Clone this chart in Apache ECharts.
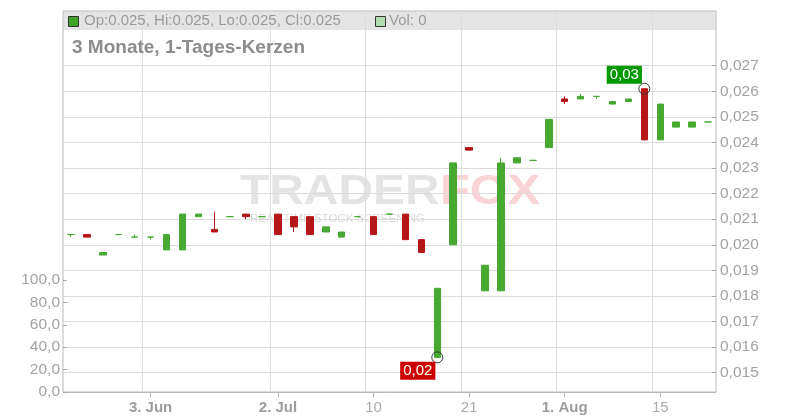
<!DOCTYPE html>
<html><head><meta charset="utf-8">
<script src="https://cdn.jsdelivr.net/npm/echarts@6/dist/echarts.min.js"></script>
<style>html,body{margin:0;padding:0;background:#fff}#c{width:800px;height:420px}</style>
</head><body><div id="c"></div>
<script>
// ---- data ----
const categories = ['22.05','23.05','26.05','27.05','28.05','03.06','05.06','10.06','12.06','16.06',
  '18.06','20.06','25.06','02.07','03.07','04.07','07.07','08.07','09.07','10.07',
  '11.07','14.07','15.07','16.07','17.07','21.07','22.07','23.07','25.07','29.07',
  '31.07','01.08','04.08','05.08','07.08','11.08','13.08','15.08','18.08','19.08','20.08'];
const opens  = [0.0204,0.0204,0.0196,0.0204,0.0203,0.0203,0.0198,0.0198,0.0211,0.0206,
  0.0211,0.0212,0.0211,0.0212,0.0211,0.0211,0.0205,0.0203,0.0211,0.0211,
  0.0212,0.0212,0.0202,0.0156,0.0200,0.0238,0.0182,0.0182,0.0232,0.0233,
  0.0238,0.0257,0.0257,0.0258,0.0255,0.0256,0.0261,0.0241,0.0246,0.0246,0.0248];
const closes = [0.0204,0.0203,0.0197,0.0204,0.0203,0.0203,0.0204,0.0212,0.0212,0.0205,
  0.0211,0.0211,0.0211,0.0204,0.0207,0.0204,0.0207,0.0205,0.0211,0.0204,
  0.0212,0.0202,0.0197,0.0183,0.0232,0.0237,0.0192,0.0232,0.0234,0.0233,
  0.0249,0.0256,0.0258,0.0258,0.0256,0.0257,0.0241,0.0255,0.0248,0.0248,0.0248];
const lows   = [0.0203,0.0203,0.0196,0.0204,0.0203,0.0202,0.0198,0.0198,0.0211,0.0205,
  0.0211,0.0210,0.0211,0.0204,0.0205,0.0204,0.0205,0.0203,0.0211,0.0204,
  0.0212,0.0202,0.0197,0.0156,0.0200,0.0237,0.0182,0.0182,0.0232,0.0233,
  0.0238,0.0255,0.0257,0.0257,0.0255,0.0256,0.0241,0.0241,0.0246,0.0246,0.0248];
const highs  = [0.0204,0.0204,0.0197,0.0204,0.0204,0.0203,0.0204,0.0212,0.0212,0.0213,
  0.0211,0.0212,0.0211,0.0212,0.0211,0.0211,0.0207,0.0205,0.0211,0.0211,
  0.0212,0.0212,0.0202,0.0183,0.0232,0.0238,0.0192,0.0234,0.0234,0.0233,
  0.0249,0.0258,0.0259,0.0258,0.0256,0.0257,0.0261,0.0255,0.0248,0.0248,0.0248];
const tickDates  = ['03.06','02.07','10.07','21.07','01.08','15.08'];
const tickLabels = ['3. Jun','2. Jul','10','21','1. Aug','15'];
const priceMin = 0.015, priceMax = 0.027, priceStep = 0.001;
const volMin = 0, volMax = 100, volStep = 20;
const lastVolume = 0;

// ---- chart ----
const FONT = 'Liberation Sans, Arial, sans-serif';
const GREEN = '#47a832', RED = '#b5161a';
const candles = categories.map((c, i) => [opens[i], closes[i], lows[i], highs[i]]);
const isTick = (idx, val) => tickDates.indexOf(val) >= 0;
const last = candles.length - 1;
const f3 = v => v.toFixed(3);
const headerText = 'Op:' + f3(opens[last]) + ', Hi:' + f3(highs[last]) + ', Lo:' + f3(lows[last]) + ', Cl:' + f3(closes[last]);
const comma = (v, d) => v.toFixed(d).replace('.', ',');

const chart = echarts.init(document.getElementById('c'), null, {renderer: 'canvas'});
const G = {left: 63, right: 84};
chart.setOption({
  animation: false,
  textStyle: {fontFamily: FONT},
  grid: [
    {left: G.left, right: G.right, top: 11, bottom: 28, show: true, borderColor: '#b8b8b8', borderWidth: 1, backgroundColor: 'transparent'},
    {left: G.left, right: G.right, top: 65.7, bottom: 47.3},
    {left: G.left, right: G.right, top: 280, bottom: 28}
  ],
  xAxis: [
    {type: 'category', gridIndex: 0, data: categories, boundaryGap: true,
      axisLine: {show: true, lineStyle: {color: '#b8b8b8'}},
      axisTick: {show: true, interval: isTick, alignWithLabel: true, length: 5, lineStyle: {color: '#b8b8b8'}},
      axisLabel: {interval: isTick, margin: 8, fontSize: 15, fontFamily: FONT, color: '#a6a6a6',
        formatter: v => { const l = tickLabels[tickDates.indexOf(v)]; return l.indexOf('.') >= 0 ? '{b|' + l + '}' : '{n|' + l + '}'; },
        rich: {b: {fontWeight: 'bold', fontSize: 15, color: '#9d9d9d', fontFamily: FONT}, n: {fontSize: 15, color: '#ababab', fontFamily: FONT}}},
      splitLine: {show: true, interval: isTick, lineStyle: {color: '#dcdcdc', width: 1}}},
    {type: 'category', gridIndex: 1, data: categories, boundaryGap: true, show: false},
    {type: 'category', gridIndex: 2, data: categories, boundaryGap: true, show: false}
  ],
  yAxis: [
    {type: 'value', gridIndex: 0, min: 0, max: 1, show: false},
    {type: 'value', gridIndex: 1, position: 'right', min: priceMin, max: priceMax, interval: priceStep,
      axisLine: {show: false},
      axisTick: {show: true, inside: true, length: 4, lineStyle: {color: '#aaaaaa'}},
      axisLabel: {margin: 4, fontSize: 15.5, color: '#a3a3a3', fontFamily: FONT, formatter: v => comma(v, 3)},
      splitLine: {show: true, lineStyle: {color: '#dcdcdc', width: 1}}},
    {type: 'value', gridIndex: 2, position: 'left', min: volMin, max: volMax, interval: volStep,
      axisLine: {show: false},
      axisTick: {show: true, inside: true, length: 4, lineStyle: {color: '#aaaaaa'}},
      axisLabel: {margin: 3, fontSize: 15.5, color: '#a3a3a3', fontFamily: FONT, formatter: v => comma(v, 1)},
      splitLine: {show: false}}
  ],
  series: [{
    type: 'candlestick', xAxisIndex: 1, yAxisIndex: 1, data: candles, barWidth: 7,
    itemStyle: {color: GREEN, color0: RED, borderColor: GREEN, borderColor0: RED, borderColorDoji: GREEN, borderWidth: 1},
    markPoint: {
      symbol: 'circle', symbolSize: 11,
      itemStyle: {color: 'rgba(255,255,255,0)', borderColor: '#333', borderWidth: 1},
      data: [
        {type: 'min', valueDim: 'lowest',
          label: {show: true, position: 'inside', offset: [-19.5, 13.5], color: '#fff', fontSize: 15, fontFamily: FONT,
            backgroundColor: '#cc0000', padding: [2, 3, 1, 3], formatter: p => comma(p.value, 2)}},
        {type: 'max', valueDim: 'highest',
          label: {show: true, position: 'inside', offset: [-20, -14], color: '#fff', fontSize: 15, fontFamily: FONT,
            backgroundColor: '#009900', padding: [2, 3, 1, 3], formatter: p => comma(p.value, 2)}}
      ]
    }
  }],
  graphic: [
    {type: 'rect', z: -1, shape: {x: 63.5, y: 11.5, width: 652, height: 18.5}, style: {fill: '#e4e4e4'}},
    {type: 'rect', z: 5, shape: {x: 68.5, y: 16.5, width: 10, height: 10}, style: {fill: '#3fa52a', stroke: '#333', lineWidth: 1}},
    {type: 'text', z: 5, x: 84, y: 21, style: {text: headerText, font: '15px ' + FONT, fill: '#9b9b9b', verticalAlign: 'middle'}},
    {type: 'rect', z: 5, shape: {x: 375.5, y: 16.5, width: 10, height: 10}, style: {fill: '#b2deb0', stroke: '#333', lineWidth: 1}},
    {type: 'text', z: 5, x: 389, y: 21, style: {text: 'Vol: ' + lastVolume, font: '15px ' + FONT, fill: '#9b9b9b', verticalAlign: 'middle'}},
    {type: 'text', z: 5, x: 72, y: 47.5, style: {text: '3 Monate, 1-Tages-Kerzen', font: 'bold 19px ' + FONT, fill: '#8c8c8c', verticalAlign: 'middle'}},
    {type: 'text', z: -1, x: 240, y: 192, scaleX: 1.14, style: {text: 'TRADER', font: 'bold 42px ' + FONT, fill: '#e4e4e4', verticalAlign: 'middle'}},
    {type: 'text', z: -1, x: 440, y: 192, scaleX: 1.16, style: {text: 'FOX', font: 'bold 42px ' + FONT, fill: '#fad3d7', verticalAlign: 'middle'}},
    {type: 'text', z: -1, x: 250, y: 219, style: {text: 'REAL TIME STOCK SCREENING', font: '11.5px ' + FONT, fill: '#dadada', verticalAlign: 'middle'}}
  ]
});
</script></body></html>
